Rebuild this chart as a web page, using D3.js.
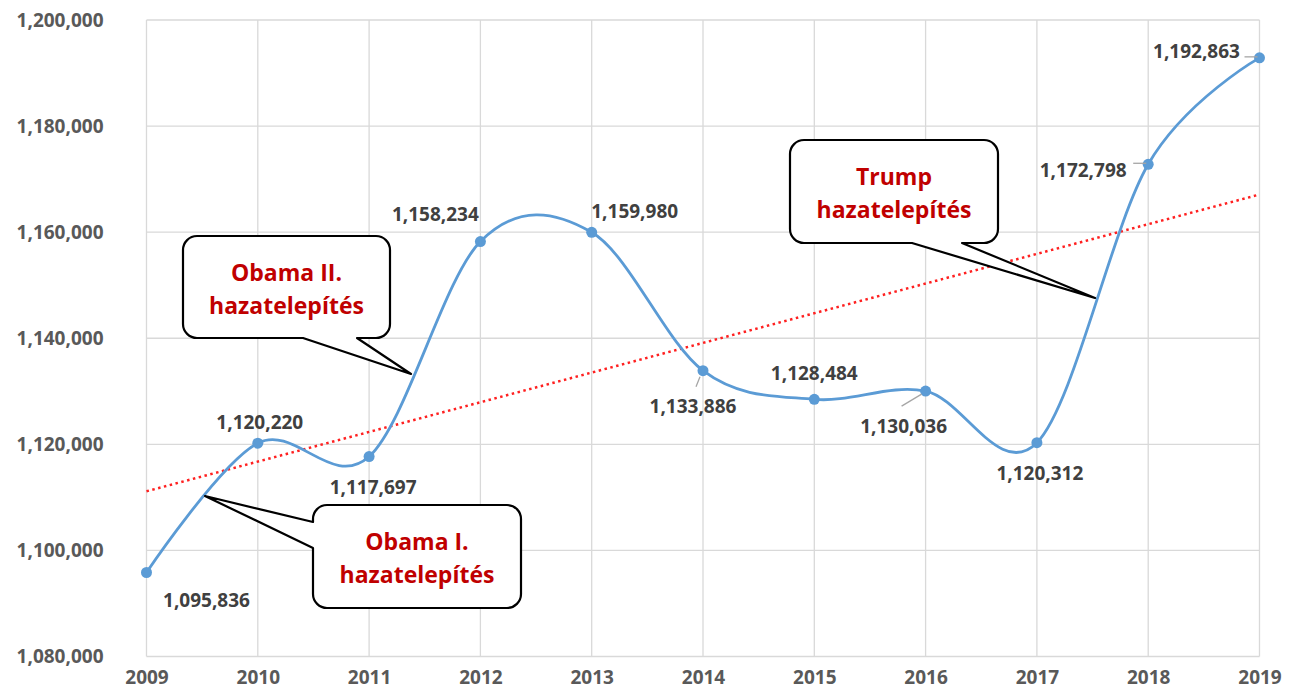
<!DOCTYPE html>
<html>
<head>
<meta charset="utf-8">
<script src="https://cdn.jsdelivr.net/npm/d3@7"></script>
<style>
body { margin: 0; background: #fff; }
text { font-family: "Open Sans", "DejaVu Sans", sans-serif; font-weight: bold; }
</style>
</head>
<body>
<script>
var years = [2009, 2010, 2011, 2012, 2013, 2014, 2015, 2016, 2017, 2018, 2019];
var values = [1095836, 1120220, 1117697, 1158234, 1159980, 1133886, 1128484, 1130036, 1120312, 1172798, 1192863];
var yTicks = [1080000, 1100000, 1120000, 1140000, 1160000, 1180000, 1200000];
var calloutLines = [["Obama II.", "hazatelepítés"], ["Obama I.", "hazatelepítés"], ["Trump", "hazatelepítés"]];

// label offsets from the point (layout only)
var labelOffsets = [[60, 28], [2, -21], [4, 31], [-45, -27], [43, -21], [-10, 36], [0, -26], [-22, 35], [3, 31], [-65, 6], [-63, -7]];
var leaders = [false, false, false, false, false, true, false, true, false, true, true];

var W = 1292, H = 695;
var mLeft = 146.5, mRight = 1259.5, mTop = 20, mBottom = 656.5;

var svg = d3.select("body").append("svg").attr("width", W).attr("height", H);

var x = d3.scaleLinear().domain([2009, 2019]).range([mLeft, mRight]);
var y = d3.scaleLinear().domain([1080000, 1200000]).range([mBottom, mTop]);

var fmt = d3.format(",");

// grid
svg.append("g").selectAll("line").data(yTicks).enter().append("line")
   .attr("x1", mLeft).attr("x2", mRight)
   .attr("y1", function(d){ return y(d); }).attr("y2", function(d){ return y(d); })
   .attr("stroke", "#d9d9d9").attr("stroke-width", 1.3);
svg.append("g").selectAll("line").data(years).enter().append("line")
   .attr("y1", mTop).attr("y2", mBottom)
   .attr("x1", function(d){ return x(d); }).attr("x2", function(d){ return x(d); })
   .attr("stroke", "#d9d9d9").attr("stroke-width", 1.3);

// axes labels
var yAxis = d3.axisLeft(y).tickValues(yTicks).tickFormat(fmt).tickSize(0).tickPadding(43);
var gy = svg.append("g").attr("transform", "translate(" + mLeft + ",0)").call(yAxis);
gy.select(".domain").remove();
gy.selectAll("text").attr("fill", "#595959").style("font-size", "19px");

var xAxis = d3.axisBottom(x).tickValues(years).tickFormat(d3.format("d")).tickSize(0).tickPadding(14);
var gx = svg.append("g").attr("transform", "translate(0," + mBottom + ")").call(xAxis);
gx.select(".domain").remove();
gx.selectAll("text").attr("fill", "#595959").style("font-size", "19px");
gy.attr("font-family", null); gx.attr("font-family", null);

// trend line (least squares from the data)
var n = years.length;
var mx = d3.mean(years), my = d3.mean(values);
var sxy = d3.sum(years, function(d, i){ return (d - mx) * (values[i] - my); });
var sxx = d3.sum(years, function(d){ return (d - mx) * (d - mx); });
var slope = sxy / sxx, icpt = my - slope * mx;
svg.append("line")
   .attr("x1", x(years[0])).attr("y1", y(icpt + slope * years[0]))
   .attr("x2", x(years[n-1])).attr("y2", y(icpt + slope * years[n-1]))
   .attr("stroke", "#ff2020").attr("stroke-width", 2.5)
   .attr("stroke-dasharray", "2.5,3.5");

// data line
var line = d3.line()
   .x(function(d, i){ return x(years[i]); })
   .y(function(d){ return y(d); })
   .curve(d3.curveCardinal.tension(0));
svg.append("path").datum(values).attr("d", line)
   .attr("fill", "none").attr("stroke", "#5b9bd5").attr("stroke-width", 2.8);

svg.append("g").selectAll("circle").data(values).enter().append("circle")
   .attr("cx", function(d, i){ return x(years[i]); })
   .attr("cy", function(d){ return y(d); })
   .attr("r", 5.5).attr("fill", "#5b9bd5");

// leader lines
values.forEach(function(d, i){
  if (!leaders[i]) return;
  var px = x(years[i]), py = y(d);
  var sx, sy, ex, ey;
  if (i === 5) { sx = px - 3; sy = py + 6; ex = px - 7; ey = py + 16; }
  else if (i === 7) { sx = px - 4; sy = py + 3; ex = px - 24; ey = py + 15; }
  else { sx = px - 2; sy = py - 1; ex = px - 15; ey = py - 1; }
  svg.append("line").attr("x1", sx).attr("y1", sy).attr("x2", ex).attr("y2", ey)
     .attr("stroke", "#a6a6a6").attr("stroke-width", 1.3);
});

// data labels
svg.append("g").selectAll("text").data(values).enter().append("text")
   .attr("x", function(d, i){ return x(years[i]) + labelOffsets[i][0]; })
   .attr("y", function(d, i){ return y(d) + labelOffsets[i][1]; })
   .attr("text-anchor", "middle").attr("dy", "0.35em")
   .attr("fill", "#404040").style("font-size", "19px")
   .text(function(d){ return fmt(d); });

// callouts
function callout(bx, by, bw, bh, r, side, a, b, tx, ty) {
  var p = d3.path();
  p.moveTo(bx + r, by);
  p.lineTo(bx + bw - r, by);
  p.arcTo(bx + bw, by, bx + bw, by + r, r);
  p.lineTo(bx + bw, by + bh - r);
  p.arcTo(bx + bw, by + bh, bx + bw - r, by + bh, r);
  if (side === "bottom") {
    p.lineTo(bx + b, by + bh);
    p.lineTo(tx, ty);
    p.lineTo(bx + a, by + bh);
  }
  p.lineTo(bx + r, by + bh);
  p.arcTo(bx, by + bh, bx, by + bh - r, r);
  if (side === "left") {
    p.lineTo(bx, by + b);
    p.lineTo(tx, ty);
    p.lineTo(bx, by + a);
  }
  p.lineTo(bx, by + r);
  p.arcTo(bx, by, bx + r, by, r);
  p.closePath();
  return p.toString();
}

var boxes = [
  { x: 183, y: 236, w: 207, h: 102, side: "bottom", a: 120, b: 174, tx: 411, ty: 374 },
  { x: 313, y: 505, w: 208, h: 103, side: "left", a: 17, b: 43, tx: 205, ty: 496 },
  { x: 790, y: 140, w: 208, h: 103, side: "bottom", a: 122, b: 172, tx: 1095, ty: 298 }
];

boxes.forEach(function(bx, i){
  var g = svg.append("g");
  g.append("path").attr("d", callout(bx.x, bx.y, bx.w, bx.h, 14, bx.side, bx.a, bx.b, bx.tx, bx.ty))
   .attr("fill", "#fff").attr("stroke", "#000").attr("stroke-width", 2.2).attr("stroke-linejoin", "round");
  g.selectAll("text").data(calloutLines[i]).enter().append("text")
   .attr("x", bx.x + bx.w / 2)
   .attr("y", function(d, j){ return bx.y + 37 + j * 33; })
   .attr("dy", "0.35em")
   .attr("text-anchor", "middle").attr("fill", "#c00000").style("font-size", "23px")
   .text(function(d){ return d; });
});
</script>
</body>
</html>
